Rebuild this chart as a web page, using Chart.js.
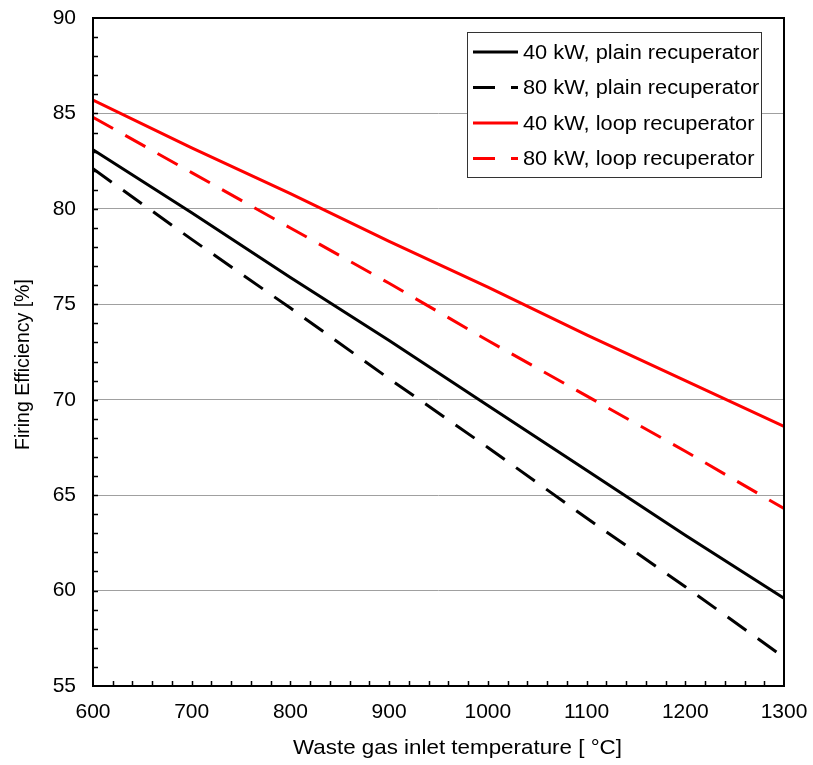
<!DOCTYPE html>
<html>
<head>
<meta charset="utf-8">
<script src="https://cdn.jsdelivr.net/npm/chart.js@4.4.0/dist/chart.umd.min.js"></script>
<style>
  body { margin: 0; background: #fff; }
  #wrap { width: 813px; height: 765px; }
</style>
</head>
<body>
<div id="wrap"><canvas id="eff" width="813" height="765"></canvas></div>
<script>
var temps = [600, 700, 800, 900, 1000, 1100, 1200, 1300];
var plain40 = [83.1, 79.8, 76.4, 73.1, 69.7, 66.3, 62.9, 59.6];
var plain80 = [82.1, 78.4, 74.8, 71.1, 67.5, 63.8, 60.2, 56.5];
var loop40 = [85.7, 83.2, 80.8, 78.3, 75.9, 73.4, 71.0, 68.6];
var loop80 = [84.8, 81.9, 79.0, 76.1, 73.1, 70.2, 67.3, 64.3];
var seriesNames = ['40 kW, plain recuperator', '80 kW, plain recuperator',
                   '40 kW, loop recuperator', '80 kW, loop recuperator'];
var xTitle = 'Waste gas inlet temperature [ °C]';
var yTitle = 'Firing Efficiency [%]';

var dash = [23, 14];
var font = 'Liberation Sans, Arial, sans-serif';

function pts(ys) {
  var out = [];
  for (let i = 0; i < temps.length; i++) out.push({x: temps[i], y: ys[i]});
  return out;
}

function line(label, ys, color, dashed) {
  return {
    label: label, data: pts(ys), borderColor: color, backgroundColor: color,
    borderWidth: 3, borderDash: dashed ? dash : [], pointRadius: 0, tension: 0
  };
}

// text squeezed/stretched to a given width, like the old Excel export
function wideText(ctx, txt, x, y, width) {
  const w = ctx.measureText(txt).width;
  ctx.save();
  ctx.translate(x, y);
  ctx.scale(width / w, 1);
  ctx.fillText(txt, 0, 0);
  ctx.restore();
}

// frame, inward ticks, axis titles and the boxed legend
const framePlugin = {
  id: 'frame',
  afterDatasetsDraw(chart) {
    const ctx = chart.ctx, a = chart.chartArea;
    const xs = chart.scales.x, ys = chart.scales.y;
    ctx.save();
    ctx.strokeStyle = '#000';
    ctx.lineWidth = 2;
    ctx.strokeRect(a.left, a.top, a.right - a.left, a.bottom - a.top);
    ctx.lineWidth = 1.5;
    ctx.beginPath();
    for (let v = 56; v < 90; v++) {
      const y = Math.round(ys.getPixelForValue(v)) + 0.5;
      ctx.moveTo(a.left, y); ctx.lineTo(a.left + 5, y);
    }
    for (let v = 620; v < 1300; v += 20) {
      const x = Math.round(xs.getPixelForValue(v)) + 0.5;
      ctx.moveTo(x, a.bottom); ctx.lineTo(x, a.bottom - 5);
    }
    ctx.stroke();

    // axis titles
    ctx.fillStyle = '#000';
    ctx.textBaseline = 'middle';
    ctx.textAlign = 'left';
    ctx.font = '21px ' + font;
    wideText(ctx, xTitle, 293, 748, 329);
    ctx.save();
    ctx.translate(24, 450);
    ctx.rotate(-Math.PI / 2);
    ctx.font = '19.5px ' + font;
    ctx.fillText(yTitle, 0, 0);
    ctx.restore();

    // legend
    const bx = 467, by = 32, bw = 294, bh = 145;
    ctx.fillStyle = '#fff';
    ctx.fillRect(bx, by, bw, bh);
    ctx.lineWidth = 1;
    ctx.strokeStyle = '#333';
    ctx.strokeRect(bx + 0.5, by + 0.5, bw, bh);
    ctx.font = '20px ' + font;
    chart.data.datasets.forEach((ds, i) => {
      const cy = 52 + i * 35.5;
      ctx.strokeStyle = ds.borderColor;
      ctx.lineWidth = 3;
      ctx.setLineDash(ds.borderDash.length ? [22, 16] : []);
      ctx.beginPath();
      ctx.moveTo(473, cy); ctx.lineTo(518, cy);
      ctx.stroke();
      ctx.setLineDash([]);
      ctx.fillStyle = '#000';
      const w = ctx.measureText(ds.label).width * 1.09;
      wideText(ctx, ds.label, 523, cy + 1, w);
    });
    ctx.restore();
  }
};

new Chart(document.getElementById('eff'), {
  type: 'line',
  data: {
    datasets: [
      line(seriesNames[0], plain40, '#000000', false),
      line(seriesNames[1], plain80, '#000000', true),
      line(seriesNames[2], loop40, '#ff0000', false),
      line(seriesNames[3], loop80, '#ff0000', true)
    ]
  },
  options: {
    responsive: false,
    animation: false,
    layout: { padding: { left: 0, right: 29, top: 18, bottom: 0 } },
    plugins: { legend: { display: false }, tooltip: { enabled: false } },
    scales: {
      x: {
        type: 'linear', min: 600, max: 1300,
        ticks: { stepSize: 100, color: '#000', padding: 14, font: { family: font, size: 21 },
                 callback: v => String(v) },
        grid: { display: false, drawTicks: false },
        border: { display: false },
        afterFit: s => { s.height = 79; s.paddingLeft = 0; s.paddingRight = 0; }
      },
      y: {
        min: 55, max: 90,
        ticks: { stepSize: 5, color: '#000', padding: 17, font: { family: font, size: 21 },
                 callback: v => String(v) },
        grid: {
          drawTicks: false, lineWidth: 1,
          color: c => (c.tick.value === 55 || c.tick.value === 90) ? 'rgba(0,0,0,0)' : '#a0a0a0'
        },
        border: { display: false },
        afterFit: s => { s.width = 93; s.paddingTop = 0; s.paddingBottom = 0; }
      }
    }
  },
  plugins: [framePlugin]
});
</script>
</body>
</html>
